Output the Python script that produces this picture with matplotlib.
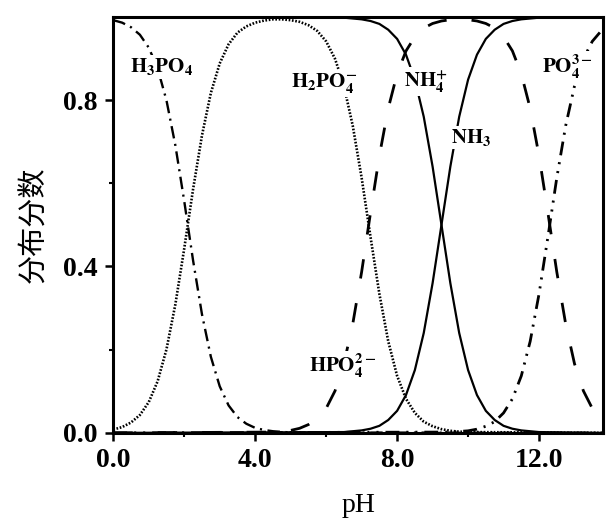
import matplotlib
matplotlib.use("Agg")
import matplotlib.pyplot as plt
from matplotlib.ticker import FixedLocator

plt.rcParams["font.family"] = ["Liberation Serif", "DejaVu Serif"]
plt.rcParams["mathtext.fontset"] = "stix"
plt.rcParams["lines.scale_dashes"] = False

# distribution fractions
ph_h3po4 = [0, 0.25, 0.5, 0.75, 1.0, 1.25, 1.5, 1.75, 2.0, 2.25, 2.5, 2.75,
            3.0, 3.25, 3.5, 3.75, 4.0, 4.25, 4.5, 5.0, 13.8]
h3po4 = [0.992, 0.986, 0.975, 0.957, 0.926, 0.876, 0.799, 0.691, 0.557, 0.414,
         0.285, 0.183, 0.112, 0.066, 0.038, 0.022, 0.012, 0.007, 0.004, 0.001, 0.0]

ph_h2po4 = [0, 0.25, 0.5, 0.75, 1.0, 1.25, 1.5, 1.75, 2.0, 2.25, 2.5, 2.75,
            3.0, 3.25, 3.5, 3.75, 4.0, 4.25, 4.5, 4.75, 5.0, 5.25, 5.5, 5.75,
            6.0, 6.25, 6.5, 6.75, 7.0, 7.25, 7.5, 7.75, 8.0, 8.25, 8.5, 8.75,
            9.0, 9.25, 9.5, 9.75, 10.0, 13.8]
h2po4 = [0.008, 0.014, 0.025, 0.043, 0.074, 0.124, 0.201, 0.309, 0.443, 0.586,
         0.715, 0.817, 0.888, 0.934, 0.962, 0.977, 0.986, 0.991, 0.994, 0.994,
         0.992, 0.988, 0.980, 0.966, 0.941, 0.899, 0.834, 0.738, 0.613, 0.471,
         0.334, 0.220, 0.137, 0.082, 0.048, 0.027, 0.016, 0.009, 0.005, 0.003,
         0.002, 0.0]

ph_hpo4 = [0, 4.5, 4.75, 5.0, 5.25, 5.5, 5.75, 6.0, 6.25, 6.5, 6.75, 7.0,
           7.25, 7.5, 7.75, 8.0, 8.25, 8.5, 8.75, 9.0, 9.25, 9.5, 9.75, 10.0,
           10.25, 10.5, 10.75, 11.0, 11.25, 11.5, 11.75, 12.0, 12.25, 12.5,
           12.75, 13.0, 13.25, 13.5, 13.75, 13.8]
hpo4 = [0.0, 0.002, 0.004, 0.006, 0.011, 0.020, 0.034, 0.059, 0.101, 0.166,
        0.262, 0.387, 0.529, 0.666, 0.780, 0.863, 0.918, 0.952, 0.973, 0.984,
        0.990, 0.993, 0.994, 0.993, 0.990, 0.984, 0.973, 0.952, 0.918, 0.863,
        0.780, 0.666, 0.529, 0.387, 0.262, 0.166, 0.101, 0.059, 0.034, 0.031]

ph_po4 = [0, 9.5, 10.0, 10.25, 10.5, 10.75, 11.0, 11.25, 11.5, 11.75, 12.0,
          12.25, 12.5, 12.75, 13.0, 13.25, 13.5, 13.75, 13.8]
po4 = [0.0, 0.002, 0.005, 0.009, 0.016, 0.027, 0.048, 0.082, 0.137, 0.220,
       0.334, 0.471, 0.613, 0.738, 0.834, 0.899, 0.941, 0.966, 0.969]

ph_nh = [0, 6.5, 7.0, 7.25, 7.5, 7.75, 8.0, 8.25, 8.5, 8.75, 9.0, 9.25, 9.5,
         9.75, 10.0, 10.25, 10.5, 10.75, 11.0, 11.25, 11.5, 12.0, 13.8]
nh4 = [1.0, 0.998, 0.994, 0.990, 0.983, 0.969, 0.947, 0.909, 0.849, 0.760,
       0.640, 0.5, 0.360, 0.240, 0.151, 0.091, 0.053, 0.031, 0.017, 0.010,
       0.006, 0.002, 0.0]
nh3 = [0.0, 0.002, 0.006, 0.010, 0.017, 0.031, 0.053, 0.091, 0.151, 0.240,
       0.360, 0.5, 0.640, 0.760, 0.849, 0.909, 0.947, 0.969, 0.983, 0.990,
       0.994, 0.998, 1.0]

x_ticks = [0, 4, 8, 12]
x_tick_labels = ["0.0", "4.0", "8.0", "12.0"]
y_ticks = [0.0, 0.4, 0.8]
y_tick_labels = ["0.0", "0.4", "0.8"]

labels = [
    (r"$\mathbf{H_3PO_4}$", 1.35, 0.88),
    (r"$\mathbf{H_2PO_4^{-}}$", 5.95, 0.84),
    (r"$\mathbf{NH_4^{+}}$", 8.8, 0.845),
    (r"$\mathbf{NH_3}$", 10.1, 0.71),
    (r"$\mathbf{PO_4^{3-}}$", 12.8, 0.88),
    (r"$\mathbf{HPO_4^{2-}}$", 6.45, 0.16),
]

fig = plt.figure(figsize=(6.09, 5.26), dpi=100)
ax = fig.add_axes([0.186, 0.177, 0.804, 0.791])

ax.plot(ph_h3po4, h3po4, color="black", lw=1.7, dashes=(9, 4, 1.5, 4))
ax.plot(ph_h2po4, h2po4, color="black", lw=1.9, dashes=(1.2, 1.2))
ax.plot(ph_hpo4, hpo4, color="black", lw=2.0, dashes=(14, 18))
ax.plot(ph_po4, po4, color="black", lw=2.0, dashes=(10, 5, 1.5, 5, 1.5, 5))
ax.plot(ph_nh, nh4, color="black", lw=1.6)
ax.plot(ph_nh, nh3, color="black", lw=1.6)

for text, x, y in labels:
    ax.text(x, y, text, fontsize=15, ha="center", va="center", zorder=5,
            bbox=dict(facecolor="white", edgecolor="none", pad=1.0))

ax.set_xlim(0, 13.8)
ax.set_ylim(0, 1.0)
ax.set_xticks(x_ticks)
ax.set_xticklabels(x_tick_labels)
ax.set_yticks(y_ticks)
ax.set_yticklabels(y_tick_labels)
ax.xaxis.set_minor_locator(FixedLocator([2, 6, 10]))
ax.yaxis.set_minor_locator(FixedLocator([0.2, 0.6]))
ax.tick_params(which="major", direction="out", length=6, width=1.8,
               labelsize=20, pad=5)
ax.tick_params(which="minor", direction="out", length=3, width=1.5)
for lab in ax.get_xticklabels() + ax.get_yticklabels():
    lab.set_fontweight("bold")

for spine in ax.spines.values():
    spine.set_linewidth(2.2)

ax.set_xlabel("pH", fontsize=20, labelpad=14)
ax.set_ylabel("分布分数", fontsize=21, family=["Noto Sans CJK SC", "DejaVu Sans"],
              labelpad=10)

fig.savefig("out.png", dpi=100, facecolor="white")
plt.close(fig)
